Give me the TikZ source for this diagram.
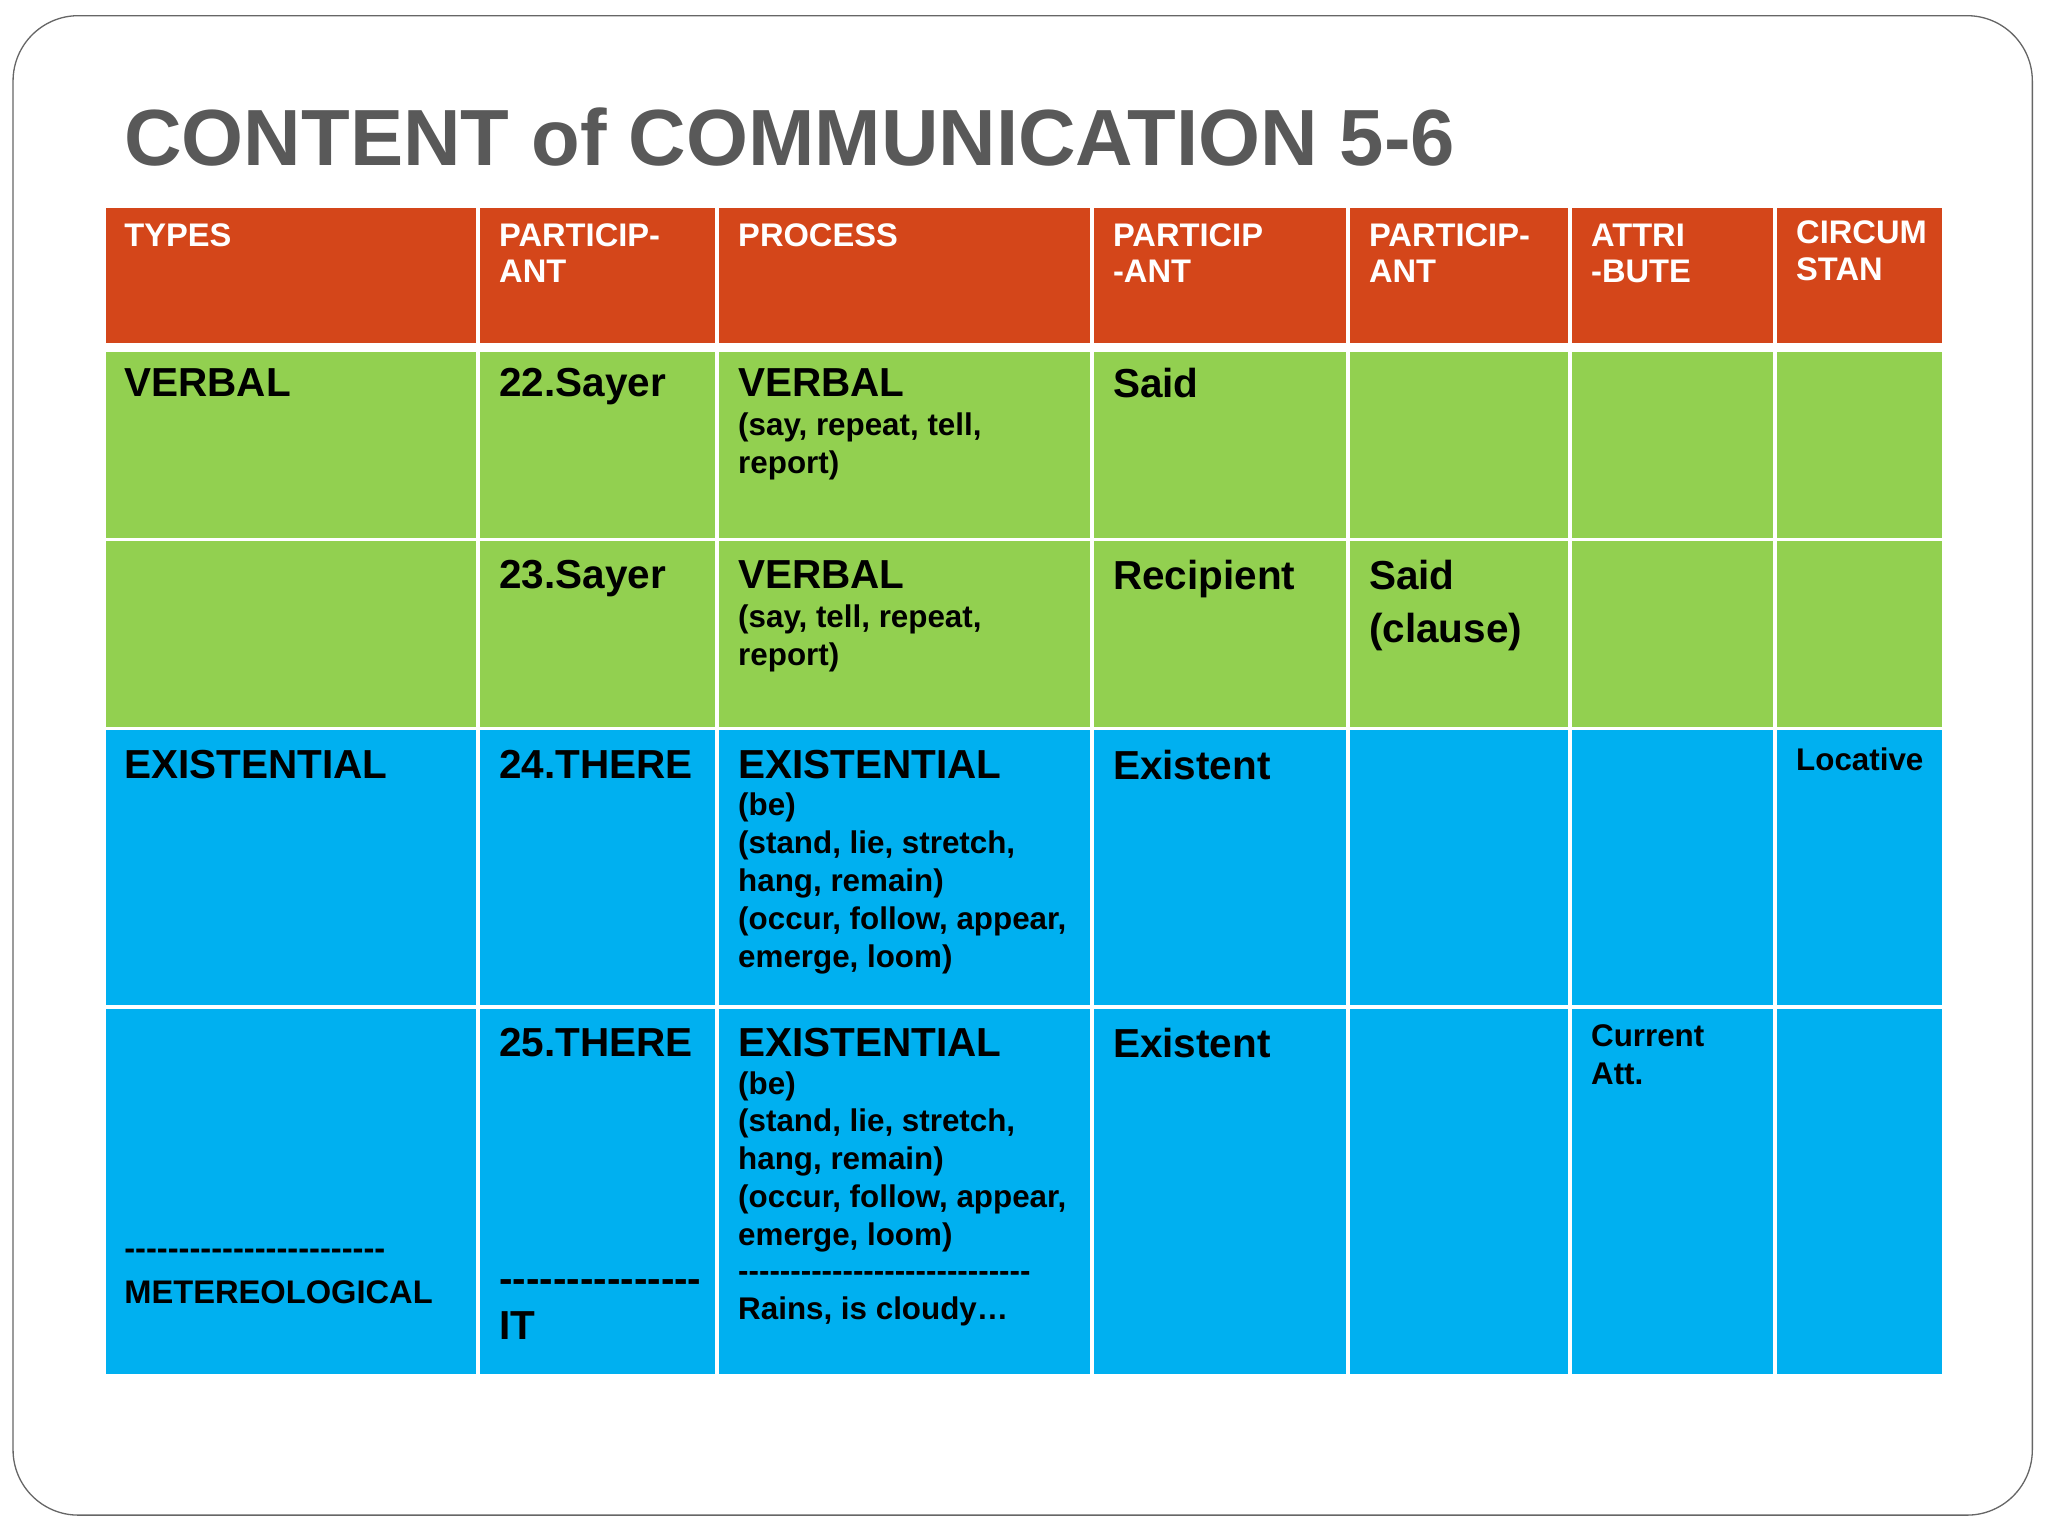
\documentclass[tikz,border=0pt]{standalone}
\usepackage{fontspec}
\setmainfont{Liberation Sans}
\definecolor{hdr}{HTML}{D4461A}
\definecolor{grn}{HTML}{92D050}
\definecolor{blu}{HTML}{00B0F0}
\definecolor{ttl}{HTML}{595959}
\newcommand\dsh[1]{\foreach \i in {1,...,#1}{-}}
\begin{document}
\begin{tikzpicture}[x=1pt,y=-1pt,
  cell/.style={draw=white,line width=2.5pt},
  ht/.style={anchor=north west,inner sep=0pt,text=white,font=\bfseries\fontsize{25}{28}\selectfont,align=left},
  bt/.style={anchor=north west,inner sep=0pt,font=\bfseries\fontsize{31}{40}\selectfont,align=left},
  st/.style={anchor=north west,inner sep=0pt,font=\bfseries\fontsize{24}{29}\selectfont,align=left},
  dt/.style={anchor=west,inner sep=0pt,text height=3pt,text depth=0pt}]
\useasboundingbox (0,0) rectangle (1568,1176);
\fill[white] (0,0) rectangle (1568,1176);
\draw[gray!80!black,line width=1pt,rounded corners=50pt] (10,12) rectangle (1556,1160);
\node[anchor=west,inner sep=0pt,text=ttl,font=\bfseries\fontsize{61}{70}\selectfont] (title) at (95,105) {CONTENT of COMMUNICATION 5-6};
\foreach \a/\b in {80/366,366/549,549/836,836/1032,1032/1202,1202/1359,1359/1488}{
  \fill[hdr,cell] (\a,158) rectangle (\b,264);
  \fill[grn,cell] (\a,268) rectangle (\b,413);
  \fill[grn,cell] (\a,413) rectangle (\b,558);
  \fill[blu,cell] (\a,558) rectangle (\b,771);
  \fill[blu,cell] (\a,771) rectangle (\b,1053);
}
\node[ht] (h1) at (95,171) {TYPES};
\node[ht] (h2) at (382,171) {PARTICIP-\\ANT};
\node[ht] (h3) at (565,171) {PROCESS};
\node[ht] (h4) at (852,171) {PARTICIP\\-ANT};
\node[ht] (h5) at (1048,171) {PARTICIP-\\ANT};
\node[ht] (h6) at (1218,171) {ATTRI\\-BUTE};
\node[ht] (h7) at (1375,169) {CIRCUM\\STAN};
\node[bt] (r1a) at (95,282) {VERBAL};
\node[bt] (r1b) at (382,282) {22.Sayer};
\node[bt] (r1c) at (565,282) {VERBAL};
\node[st] (r1c2) at (565,316) {(say, repeat, tell,\\report)};
\node[bt] (r1d) at (852,282) {Said};
\node[bt] (r2b) at (382,429) {23.Sayer};
\node[bt] (r2c) at (565,429) {VERBAL};
\node[st] (r2c2) at (565,463) {(say, tell, repeat,\\report)};
\node[bt] (r2d) at (852,429) {Recipient};
\node[bt] (r2e) at (1048,429) {Said\\(clause)};
\node[bt] (r3a) at (95,574) {EXISTENTIAL};
\node[bt] (r3b) at (382,574) {24.THERE};
\node[bt] (r3c) at (565,574) {EXISTENTIAL};
\node[st] (r3c2) at (565,607) {(be)\\(stand, lie, stretch,\\hang, remain)\\(occur, follow, appear,\\emerge, loom)};
\node[bt] (r3d) at (852,574) {Existent};
\node[st] (r3g) at (1375,572) {Locative};
\node[bt] (r4b) at (382,787) {25.THERE};
\node[bt] (r4c) at (565,787) {EXISTENTIAL};
\node[st] (r4c2) at (565,820) {(be)\\(stand, lie, stretch,\\hang, remain)\\(occur, follow, appear,\\emerge, loom)};
\node[dt,font=\bfseries\fontsize{24}{29}\selectfont] (r4c3) at (565,980) {\dsh{28}};
\node[st] (r4c4) at (565,993) {Rains, is cloudy…};
\node[bt] (r4d) at (852,787) {Existent};
\node[st] (r4f) at (1218,784) {Current\\Att.};
\node[dt,font=\bfseries\fontsize{25}{29}\selectfont] (r4a1) at (95,963) {\dsh{24}};
\node[st,font=\bfseries\fontsize{25}{29}\selectfont] (r4a2) at (95,980) {METEREOLOGICAL};
\node[dt,font=\bfseries\fontsize{31}{40}\selectfont] (r4b2) at (382,988) {\dsh{15}};
\node[bt] (r4b3) at (382,1004) {IT};
\end{tikzpicture}
\end{document}
